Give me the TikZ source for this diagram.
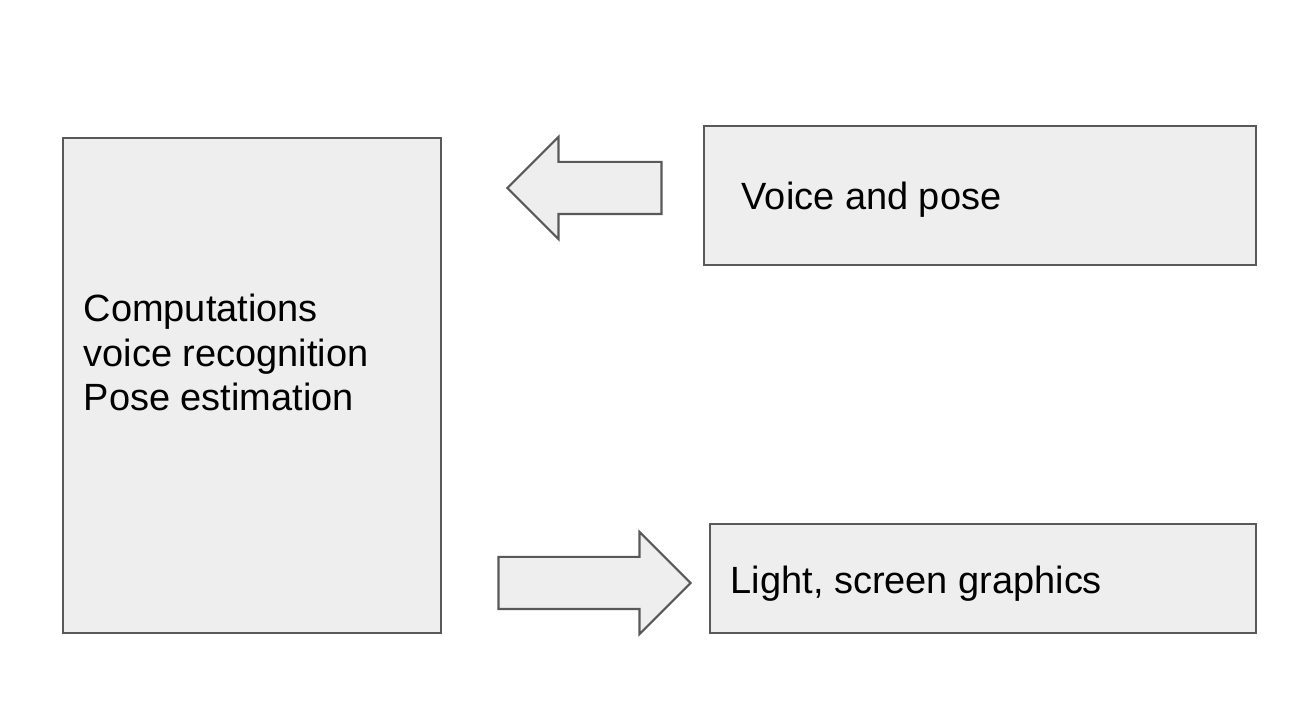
\documentclass[tikz,border=0pt]{standalone}
\usepackage{fontspec}
\setmainfont{Liberation Sans}
\usepackage{xcolor}
\usepackage{tikz}
\usetikzlibrary{shapes}
\usetikzlibrary{shapes.arrows}
\usetikzlibrary{positioning}
\definecolor{boxfill}{HTML}{EEEEEE}
\definecolor{boxline}{HTML}{595959}

\begin{document}
\begin{tikzpicture}[
    x=1cm, y=1cm,
    box/.style={draw=boxline, fill=boxfill, line width=0.6pt, rectangle,
      inner sep=0pt, outer sep=0pt},
    blockarrow/.style={draw=boxline, fill=boxfill, line width=0.6pt,
      single arrow, single arrow tip angle=90, single arrow head extend=0.25cm,
      minimum width=1cm, inner xsep=0pt, inner ysep=0.25cm, outer sep=0pt},
    txt/.style={inner sep=0pt, font=\fontsize{10.8}{12.8}\selectfont}
]
\useasboundingbox (0,0) rectangle (13.1,7.1);
\node[box, minimum width=3.78cm, minimum height=4.95cm] (comp) at (2.52,3.245) {};
\node[box, minimum width=5.52cm, minimum height=1.39cm] (sense) at (9.80,5.145) {};
\node[box, minimum width=5.46cm, minimum height=1.09cm] (act) at (9.83,1.315) {};
\node[blockarrow, minimum height=1.54cm, shape border rotate=180] (inarrow) at (5.975,5.22) {};
\node[blockarrow, minimum height=1.92cm] (outarrow) at (5.815,1.27) {};
% texts
\node[txt, anchor=base west, align=left] (comptext) at (0.83,2.99)
  {Computations\\voice recognition\\Pose estimation};
\node[txt, anchor=base west] (sensetext) at (7.41,5.00) {Voice and pose};
\node[txt, anchor=base west] (acttext) at (7.30,1.16) {Light, screen graphics};
\end{tikzpicture}
\end{document}
